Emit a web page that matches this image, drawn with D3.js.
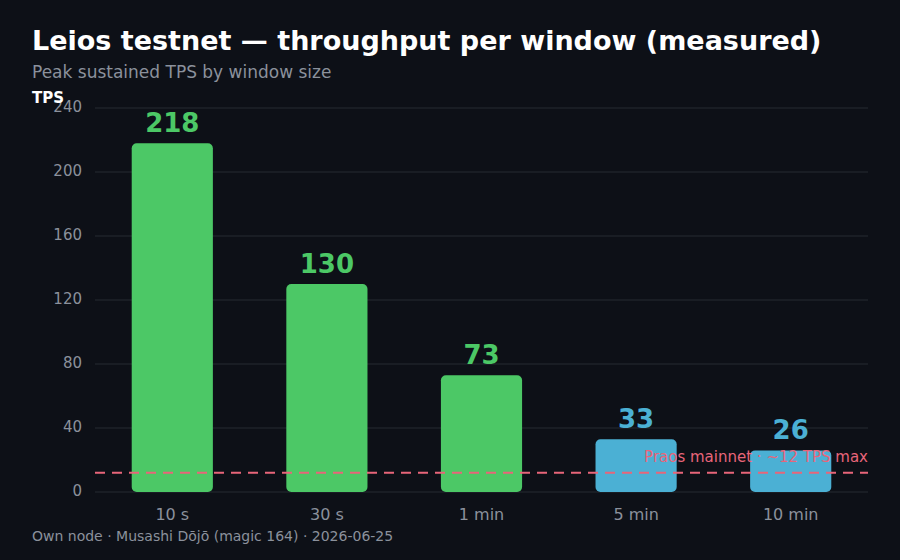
<!DOCTYPE html>
<html>
<head>
<meta charset="utf-8">
<script src="https://cdn.jsdelivr.net/npm/d3@7"></script>
<style>
  body { margin: 0; background: #0d1017; }
  svg { display: block; font-family: "DejaVu Sans", sans-serif; }
</style>
</head>
<body>
<svg id="chart" width="900" height="560"></svg>
<script>
// window sizes and measured peak TPS
var windows = ["10 s", "30 s", "1 min", "5 min", "10 min"];
var tpsValues = [218, 130, 73, 33, 26];
var barGroups = ["long", "long", "long", "short", "short"];
var yTicks = [0, 40, 80, 120, 160, 200, 240];
var praosMax = 12;

var svg = d3.select("#chart");
var margin = {top: 108, right: 32, bottom: 68, left: 95};
var width = 900 - margin.left - margin.right;
var height = 560 - margin.top - margin.bottom;

svg.append("rect").attr("width", 900).attr("height", 560).attr("fill", "#0d1017");

// titles
svg.append("text")
    .attr("x", 32).attr("y", 50)
    .attr("fill", "#ffffff")
    .attr("font-size", 27).attr("font-weight", "bold")
    .text("Leios testnet — throughput per window (measured)");
svg.append("text")
    .attr("x", 32).attr("y", 78)
    .attr("fill", "#8b919c")
    .attr("font-size", 17)
    .text("Peak sustained TPS by window size");

var g = svg.append("g").attr("transform", "translate(" + margin.left + "," + margin.top + ")");

var x = d3.scaleBand()
    .domain(windows)
    .range([0, width])
    .paddingInner(0.475)
    .paddingOuter(0.2375);

var y = d3.scaleLinear()
    .domain([0, 240])
    .range([height, 0]);

var color = {long: "#4cc866", short: "#4bb0d4"};

// gridlines
g.selectAll(".grid")
    .data(yTicks)
    .enter().append("line")
    .attr("x1", 0).attr("x2", width)
    .attr("y1", function(d) { return y(d); })
    .attr("y2", function(d) { return y(d); })
    .attr("stroke", "#262a33").attr("stroke-width", 1);

// y axis labels
var yAxis = d3.axisLeft(y).tickValues(yTicks).tickSize(0).tickPadding(13);
var yg = g.append("g").call(yAxis);
yg.select(".domain").remove();
yg.selectAll("text")
    .attr("fill", "#8b919c")
    .attr("font-size", 15)
    .attr("dy", "0.25em")
    .attr("font-family", "DejaVu Sans, sans-serif");

svg.append("text")
    .attr("x", 32).attr("y", 103)
    .attr("fill", "#ffffff")
    .attr("font-size", 15).attr("font-weight", "bold")
    .text("TPS");

// x axis labels
var xAxis = d3.axisBottom(x).tickSize(0).tickPadding(17);
var xg = g.append("g").attr("transform", "translate(0," + height + ")").call(xAxis);
xg.select(".domain").remove();
xg.selectAll("text").attr("fill", "#8b919c").attr("font-size", 16).attr("font-family", "DejaVu Sans, sans-serif");

// bars
g.selectAll(".bar")
    .data(tpsValues)
    .enter().append("rect")
    .attr("x", function(d, i) { return x(windows[i]); })
    .attr("y", function(d) { return y(d); })
    .attr("width", x.bandwidth())
    .attr("height", function(d) { return height - y(d); })
    .attr("rx", 5)
    .attr("fill", function(d, i) { return color[barGroups[i]]; });

// value labels
g.selectAll(".val")
    .data(tpsValues)
    .enter().append("text")
    .attr("x", function(d, i) { return x(windows[i]) + x.bandwidth() / 2; })
    .attr("y", function(d) { return y(d) - 11; })
    .attr("text-anchor", "middle")
    .attr("fill", function(d, i) { return color[barGroups[i]]; })
    .attr("font-size", 26).attr("font-weight", "bold")
    .text(function(d) { return d; });

// praos reference line
g.append("line")
    .attr("x1", 0).attr("x2", width)
    .attr("y1", y(praosMax)).attr("y2", y(praosMax))
    .attr("stroke", "#e8657a").attr("stroke-width", 2)
    .attr("stroke-dasharray", "10,7");
g.append("text")
    .attr("x", width).attr("y", y(praosMax) - 11)
    .attr("text-anchor", "end")
    .attr("fill", "#e8657a")
    .attr("font-size", 15)
    .text("Praos mainnet · ~12 TPS max");

// footer
svg.append("text")
    .attr("x", 32).attr("y", 541)
    .attr("fill", "#8b919c")
    .attr("font-size", 14)
    .text("Own node · Musashi Dōjō (magic 164) · 2026-06-25");
</script>
</body>
</html>
